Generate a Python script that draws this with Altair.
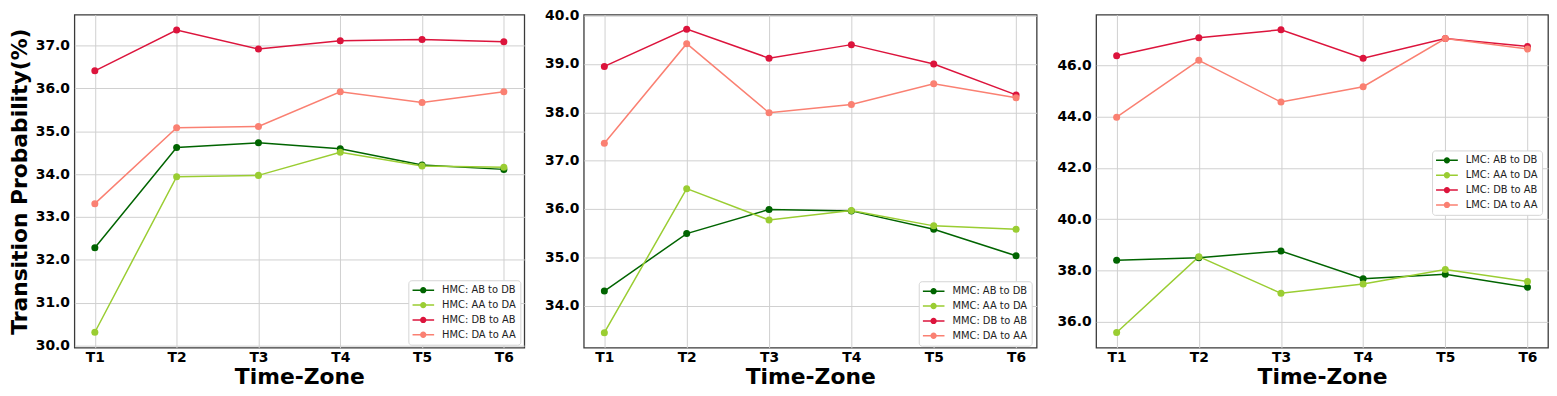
import altair as alt
import pandas as pd

time_zones = ["T1", "T2", "T3", "T4", "T5", "T6"]
series_names = ["AB to DB", "AA to DA", "DB to AB", "DA to AA"]
series_colors = ["darkgreen", "yellowgreen", "crimson", "salmon"]

hmc_ab_db = [32.28, 34.62, 34.73, 34.59, 34.21, 34.11]
hmc_aa_da = [30.31, 33.94, 33.97, 34.51, 34.19, 34.16]
hmc_db_ab = [36.41, 37.36, 36.92, 37.11, 37.14, 37.09]
hmc_da_aa = [33.31, 35.08, 35.11, 35.92, 35.67, 35.92]

mmc_ab_db = [34.30, 35.49, 35.99, 35.96, 35.58, 35.03]
mmc_aa_da = [33.44, 36.42, 35.77, 35.97, 35.65, 35.58]
mmc_db_ab = [38.95, 39.72, 39.12, 39.40, 39.00, 38.36]
mmc_da_aa = [37.36, 39.42, 37.99, 38.16, 38.59, 38.30]

lmc_ab_db = [38.40, 38.50, 38.76, 37.68, 37.85, 37.35]
lmc_aa_da = [35.58, 38.54, 37.11, 37.47, 38.04, 37.57]
lmc_db_ab = [46.38, 47.08, 47.39, 46.28, 47.05, 46.74]
lmc_da_aa = [43.98, 46.20, 44.57, 45.17, 47.05, 46.64]

hmc_ticks = [30, 31, 32, 33, 34, 35, 36, 37]
mmc_ticks = [34, 35, 36, 37, 38, 39, 40]
lmc_ticks = [36, 38, 40, 42, 44, 46]

# legend symbol: a short line with a dot on it
SYM = ("M-1,-0.07L1,-0.07L1,0.07L-1,0.07Z "
       "M0.29,0A0.29,0.29,0,1,1,-0.29,0A0.29,0.29,0,1,1,0.29,0Z")


def panel(prefix, series, ydomain, yticks, width, lx, ly, ytitle):
    labels = [f"{prefix}: {n}" for n in series_names]
    rows = []
    for lab, vals in zip(labels, series):
        for t, v in zip(time_zones, vals):
            rows.append({"t": t, "v": v, "s": lab})
    df = pd.DataFrame(rows)
    x = alt.X("t:N", sort=time_zones,
              scale=alt.Scale(type="point", padding=0.25, domain=time_zones),
              axis=alt.Axis(title="Time-Zone", labelAngle=0, grid=True))
    if ytitle:
        y = alt.Y("v:Q", scale=alt.Scale(domain=ydomain, nice=False, zero=False),
                  axis=alt.Axis(values=yticks, format=".1f"), title=ytitle)
    else:
        y = alt.Y("v:Q", scale=alt.Scale(domain=ydomain, nice=False, zero=False),
                  axis=alt.Axis(values=yticks, format=".1f"), title=None)
    cscale = alt.Scale(domain=labels, range=series_colors)
    base = alt.Chart(df)
    layers = []
    for lab, col in zip(labels, series_colors):
        layers.append(
            base.transform_filter(alt.datum.s == lab)
            .mark_line(strokeWidth=1.5, color=col)
            .encode(x=x, y=y)
        )
    pts = base.mark_point(filled=True, opacity=1, size=50).encode(
        x=x, y=y,
        color=alt.Color("s:N", scale=cscale, sort=labels,
                        legend=alt.Legend(
                            title=None, orient="none", legendX=lx, legendY=ly,
                            symbolType=SYM, symbolSize=484, clipHeight=12,
                            rowPadding=3, labelFontSize=10, labelFont="DejaVu Sans",
                            labelFontWeight="normal", labelColor="#222222",
                            labelOffset=8, padding=4, fillColor="white",
                            strokeColor="#d5d5d5", cornerRadius=3,
                            symbolStrokeWidth=0, symbolOpacity=1)))
    layers.append(pts)
    return alt.layer(*layers).properties(width=width, height=336)


p1 = panel("HMC", [hmc_ab_db, hmc_aa_da, hmc_db_ab, hmc_da_aa],
           [29.95, 37.72], hmc_ticks, 454, 337, 268, "Transition Probability(%)")
p2 = panel("MMC", [mmc_ab_db, mmc_aa_da, mmc_db_ab, mmc_da_aa],
           [33.13, 40.02], mmc_ticks, 457, 338, 269, "")
p3 = panel("LMC", [lmc_ab_db, lmc_aa_da, lmc_db_ab, lmc_da_aa],
           [34.99, 47.98], lmc_ticks, 456, 339, 137, "")

chart = alt.hconcat(p1, p2, p3, spacing=18).resolve_scale(
    color="independent", y="independent"
).properties(
    padding={"left": 0, "top": -2, "right": 0, "bottom": 0}
).configure_view(
    stroke="#3a3a3a", strokeWidth=1.3
).configure_axis(
    labelFont="DejaVu Sans", labelFontWeight="bold", labelFontSize=14,
    labelColor="black", titleFont="DejaVu Sans", titleFontWeight="bold",
    titleFontSize=22, titleColor="black", gridColor="#cfcfcf", gridWidth=1,
    domain=False, tickSize=0
).configure_axisY(
    minExtent=40, maxExtent=40, titlePadding=3, labelPadding=5
).configure_axisX(
    labelPadding=3, titlePadding=2
)

chart.save("out.html", embed_options={"renderer": "svg", "actions": False})
